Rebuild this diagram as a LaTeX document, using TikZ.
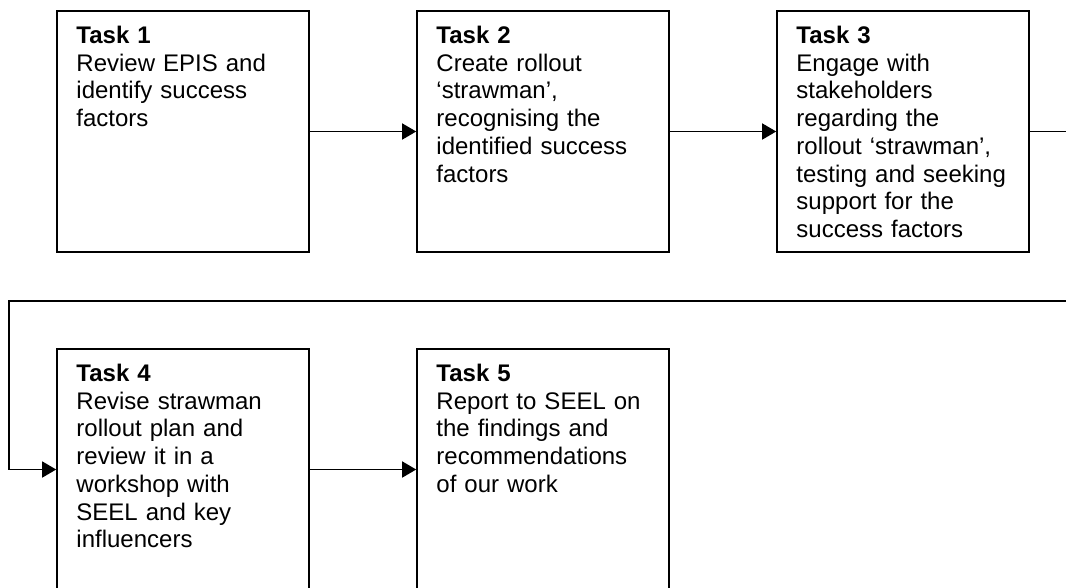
\documentclass[tikz,border=0pt]{standalone}
\usepackage{fontspec}
\setmainfont{Liberation Sans}
\usetikzlibrary{positioning,arrows.meta,calc}
\tikzset{
    % Task boxes
    taskbox/.style={
        draw=black,
        fill=white,
        line width=1.2pt,
        inner sep=0pt,
        minimum width=189pt,
        minimum height=180.75pt
    },
    % Text inside the task boxes
    tasktext/.style={
        anchor=north west,
        inner sep=0pt,
        text width=172pt,
        align=left,
        font=\fontsize{18}{20.8}\selectfont
    },
    % Flow arrows
    flowarrow/.style={
        -{Triangle[length=10.5pt,width=12pt]},
        line width=1.1pt,
        black
    }
}

\begin{document}
\begin{tikzpicture}[x=0.75pt,y=-0.75pt]

% ==================== FRAME ====================
\path[use as bounding box] (0,0) rectangle (1066,587);
\clip (0,0) rectangle (1066,587);

% ==================== ROW 1 ====================
\node[taskbox] (t1) at (183, 131.5) {};
\node[taskbox] (t2) at (543, 131.5) {};
\node[taskbox] (t3) at (903, 131.5) {};

\node[tasktext] (t1txt) at ([shift={(20,15.5)}]t1.north west)
    {\textbf{Task 1}\\Review EPIS and\\identify success\\factors};
\node[tasktext] (t2txt) at ([shift={(20,15.5)}]t2.north west)
    {\textbf{Task 2}\\Create rollout\\‘strawman’,\\recognising the\\identified success\\factors};
\node[tasktext] (t3txt) at ([shift={(20,15.5)}]t3.north west)
    {\textbf{Task 3}\\Engage with\\stakeholders\\regarding the\\rollout ‘strawman’,\\testing and seeking\\support for the\\success factors};

% ==================== ROW 2 ====================
\node[taskbox] (t4) at (183, 469.5) {};
\node[taskbox] (t5) at (543, 469.5) {};

\node[tasktext] (t4txt) at ([shift={(20,15.5)}]t4.north west)
    {\textbf{Task 4}\\Revise strawman\\rollout plan and\\review it in a\\workshop with\\SEEL and key\\influencers};
\node[tasktext] (t5txt) at ([shift={(20,15.5)}]t5.north west)
    {\textbf{Task 5}\\Report to SEEL on\\the findings and\\recommendations\\of our work};

% ==================== ARROWS ====================
\draw[flowarrow] (t1.east) -- (t2.west);
\draw[flowarrow] (t2.east) -- (t3.west);

% Wrap from row 1 to row 2
\coordinate (turnR) at (1100, 301);
\coordinate (turnL) at (9, 301);
\draw[flowarrow] (t3.east) -| (turnR) -- (turnL) |- (t4.west);

\draw[flowarrow] (t4.east) -- (t5.west);

\end{tikzpicture}
\end{document}
